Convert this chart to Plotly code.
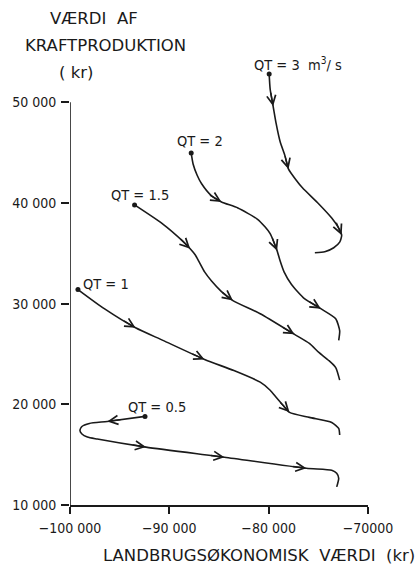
import math
import plotly.graph_objects as go

# ---- data ----
qt_labels = ["QT = 3  m<sup>3</sup>/ s", "QT = 2", "QT = 1.5", "QT = 1", "QT = 0.5"]

qt3_x = [-79950, -79850, -79550, -79250, -78850, -78350, -78000, -77300, -76600, -74950,
         -73650, -72950, -72650, -72850, -73450, -74350, -75350]
qt3_y = [52800, 51300, 49600, 47900, 46100, 44650, 43350, 42350, 41500, 39900,
         38500, 37500, 36800, 36100, 35550, 35150, 35050]
qt3_arrows = [2, 6, 12]

qt2_x = [-87800, -87600, -87200, -86750, -85750, -84750, -83100, -81150, -80350, -79850,
         -79450, -79150, -78850, -78450, -77700, -76400, -74750, -73250, -72850, -72950]
qt2_y = [44950, 43850, 42750, 41900, 40700, 40100, 39500, 38400, 37600, 36950,
         36050, 35250, 34250, 33150, 31900, 30500, 29500, 28500, 27300, 26350]
qt2_arrows = [5, 11, 16]

qt15_x = [-93500, -90650, -88700, -87900, -87400, -87000, -86450, -85750, -84750, -83600,
          -80850, -77400, -75900, -74950, -73950, -73250, -72850]
qt15_y = [39800, 37900, 36250, 35450, 34850, 34150, 33150, 32250, 31200, 30300,
          29000, 26950, 26050, 25150, 24350, 23650, 22400]
qt15_arrows = [3, 9, 11]

qt1_x = [-99200, -96550, -93400, -90650, -86450, -83500, -80850, -79850, -79250, -78550,
         -77900, -75900, -73650, -72950, -72850]
qt1_y = [31400, 29500, 27600, 26350, 24450, 23350, 22200, 21400, 20700, 19900,
         19200, 18700, 18200, 17600, 16950]
qt1_arrows = [2, 4, 10]

qt05_x = [-92450, -96250, -98050, -98800, -99000, -98800, -98250, -97250, -92350, -84450,
          -76200, -73650, -73150, -72950, -73150]
qt05_y = [18800, 18300, 18100, 17800, 17400, 17050, 16750, 16550, 15750, 14750,
          13650, 13450, 13150, 12650, 11800]
qt05_arrows = [1, 8, 9, 10]

# label offsets (pixels) from each curve's starting dot: left edge / vertical centre
series = [
    (qt3_x, qt3_y, qt3_arrows, qt_labels[0], -17, 10),
    (qt2_x, qt2_y, qt2_arrows, qt_labels[1], -16, 12),
    (qt15_x, qt15_y, qt15_arrows, qt_labels[2], -26, 10),
    (qt1_x, qt1_y, qt1_arrows, qt_labels[3], 3, 6),
    (qt05_x, qt05_y, qt05_arrows, qt_labels[4], -19, 9),
]

x_tickvals = [-100000, -90000, -80000, -70000]
x_ticktext = ["\u2212100 000", "\u221290 000", "\u221280 000", "\u221270000"]
y_tickvals = [10000, 20000, 30000, 40000, 50000]
y_ticktext = ["10 000", "20 000", "30 000", "40 000", "50 000"]

X_RANGE = [-100000, -70000]
Y_RANGE = [10000, 53500]
W, H = 416, 568
ML, MR, MT, MB = 65, 48, 67, 63

FONT = "DejaVu Sans, sans-serif"
FONT_C = "DejaVu Sans Condensed, DejaVu Sans, sans-serif"
INK = "#1a1a1a"

# pixel scale of the axes (for orienting arrowheads)
sx = (W - ML - MR) / (X_RANGE[1] - X_RANGE[0])
sy = (H - MT - MB) / (Y_RANGE[1] - Y_RANGE[0])

fig = go.Figure()
annotations = []
for xs, ys, arrows, label, dx, dy in series:
    fig.add_trace(go.Scatter(
        x=xs, y=ys, mode="lines",
        line=dict(color=INK, width=1.6, shape="spline", smoothing=0.6),
        cliponaxis=False, showlegend=False, hoverinfo="skip",
    ))
    fig.add_trace(go.Scatter(
        x=[xs[0]], y=[ys[0]], mode="markers",
        marker=dict(symbol="circle", size=5, color=INK),
        cliponaxis=False, showlegend=False, hoverinfo="skip",
    ))
    for i in arrows:
        px = (xs[i] - xs[i - 1]) * sx
        py = -(ys[i] - ys[i - 1]) * sy
        n = math.hypot(px, py)
        L = 14
        annotations.append(dict(
            x=xs[i], y=ys[i], xref="x", yref="y", text="",
            font=dict(size=1), borderpad=0,
            showarrow=True, arrowhead=5, arrowsize=1.25, arrowwidth=1.4,
            arrowcolor=INK, standoff=0,
            ax=-px / n * L, ay=-py / n * L,
        ))
    annotations.append(dict(
        x=xs[0], y=ys[0], xref="x", yref="y", text=label, showarrow=False,
        xanchor="left", yanchor="middle", xshift=dx, yshift=dy,
        font=dict(family=FONT_C, size=14.5, color=INK),
    ))

# axis titles (y title stacked above the axis)
annotations += [
    dict(text="VÆRDI  AF", xref="paper", yref="paper", x=-0.0726, y=1.111,
         xanchor="left", yanchor="middle", showarrow=False,
         font=dict(family=FONT, size=16.5, color=INK)),
    dict(text="KRAFTPRODUKTION", xref="paper", yref="paper", x=-0.158, y=1.0495,
         xanchor="left", yanchor="middle", showarrow=False,
         font=dict(family=FONT, size=16.5, color=INK)),
    dict(text="( kr)", xref="paper", yref="paper", x=-0.0429, y=0.988,
         xanchor="left", yanchor="middle", showarrow=False,
         font=dict(family=FONT, size=16.5, color=INK)),
    dict(text="LANDBRUGSØKONOMISK  VÆRDI  (kr)", xref="paper", yref="paper",
         x=0.635, y=-0.1164, xanchor="center", yanchor="middle", showarrow=False,
         font=dict(family=FONT, size=16.5, color=INK)),
]

fig.update_layout(
    width=W, height=H,
    margin=dict(l=ML, r=MR, t=MT, b=MB),
    paper_bgcolor="white", plot_bgcolor="white",
    annotations=annotations,
    shapes=[dict(type="line", xref="x", yref="y", x0=X_RANGE[0], x1=X_RANGE[0],
                 y0=y_tickvals[0], y1=y_tickvals[-1], line=dict(color=INK, width=1.6))],
    xaxis=dict(range=X_RANGE, showgrid=False, zeroline=False,
               showline=True, linecolor=INK, linewidth=1.6,
               ticks="outside", ticklen=7, tickwidth=1.5, tickcolor=INK,
               tickvals=x_tickvals, ticktext=x_ticktext, ticklabelstandoff=2,
               tickfont=dict(family=FONT_C, size=14, color=INK)),
    yaxis=dict(range=Y_RANGE, showgrid=False, zeroline=False,
               showline=False,
               ticks="outside", ticklen=8, tickwidth=1.5, tickcolor=INK,
               tickvals=y_tickvals, ticktext=y_ticktext, ticklabelstandoff=2,
               tickfont=dict(family=FONT_C, size=14, color=INK)),
)

fig.write_html("out.html", config={"displayModeBar": False},
               post_script="document.body.style.margin='0';")
